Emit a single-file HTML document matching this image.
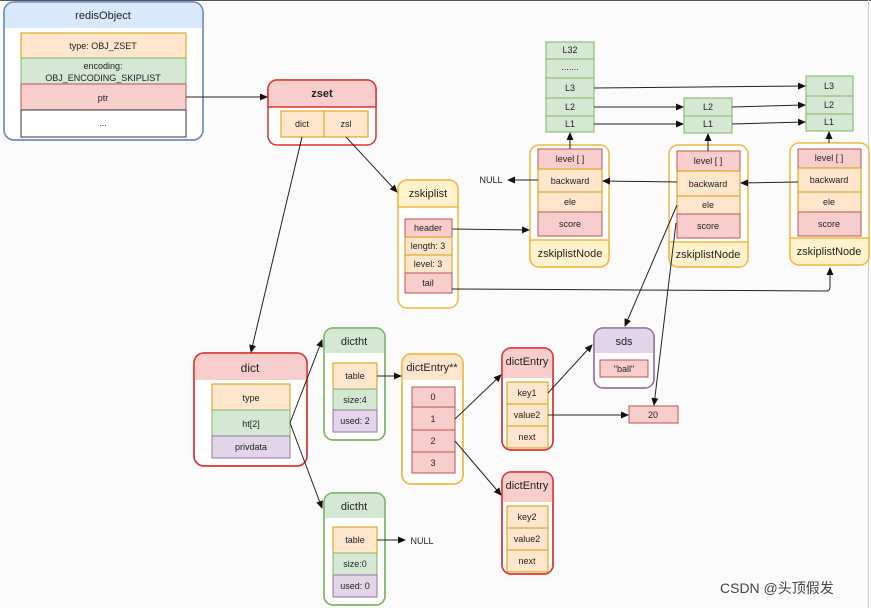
<!DOCTYPE html>
<html><head><meta charset="utf-8"><style>
html,body{margin:0;padding:0;background:#fbfbfb;}
svg{display:block;font-family:"Liberation Sans","Noto Sans CJK SC",sans-serif;}
text{text-anchor:middle;dominant-baseline:central;fill:#222;}
.s{font-size:9px}.t{font-size:12px}
</style></head><body>
<svg width="871" height="608" viewBox="0 0 871 608" xmlns="http://www.w3.org/2000/svg">
<defs><marker id="a" markerWidth="8" markerHeight="8" refX="7" refY="4" orient="auto" markerUnits="userSpaceOnUse"><path d="M0,0.5 L8,4 L0,7.5 z" fill="#111"/></marker></defs>
<rect x="0" y="0" width="871" height="608" fill="#fbfbfb"/>
<line x1="0" y1="0.5" x2="871" y2="0.5" stroke="#555"/>
<line x1="868.5" y1="0" x2="868.5" y2="608" stroke="#ccc"/>

<!-- redisObject -->
<rect x="4" y="2" width="199" height="138" rx="10" fill="#fff" stroke="#6c8ebf" stroke-width="1.5"/>
<path d="M4,28 V12 a10,10 0 0 1 10,-10 H193 a10,10 0 0 1 10,10 V28 z" fill="#dae8fc"/>
<rect x="4" y="2" width="199" height="138" rx="10" fill="none" stroke="#6c8ebf" stroke-width="1.5"/>
<text x="103" y="16" class="t" style="font-size:11px">redisObject</text>
<rect x="21" y="33" width="165" height="25" fill="#ffe6cc" stroke="#d79b00"/>
<text x="103" y="46" class="s">type: OBJ_ZSET</text>
<rect x="21" y="58" width="165" height="26" fill="#d5e8d4" stroke="#82b366"/>
<text x="103" y="66" class="s">encoding:</text><text x="103" y="78" class="s">OBJ_ENCODING_SKIPLIST</text>
<rect x="21" y="84" width="165" height="26" fill="#f8cecc" stroke="#b85450"/>
<text x="103" y="98" class="s">ptr</text>
<rect x="21" y="110" width="165" height="27" fill="#fff" stroke="#333"/>
<text x="103" y="123" class="s">...</text>

<!-- zset -->
<rect x="268" y="80" width="108" height="65" rx="9" fill="#fff" stroke="#d33" stroke-width="1.5"/>
<path d="M268,107 V89 a9,9 0 0 1 9,-9 H367 a9,9 0 0 1 9,9 V107 z" fill="#f8cecc" stroke="#d33" stroke-width="1.5"/>
<text x="322" y="94" class="t" style="font-weight:bold;font-size:11px">zset</text>
<rect x="281" y="111" width="43" height="26" fill="#ffe6cc" stroke="#d79b00"/>
<rect x="324" y="111" width="44" height="26" fill="#ffe6cc" stroke="#d79b00"/>
<text x="302" y="124" class="s">dict</text><text x="346" y="124" class="s">zsl</text>

<!-- zskiplist -->
<rect x="398" y="180" width="60" height="128" rx="9" fill="#fff" stroke="#f0b840" stroke-width="1.5"/>
<path d="M398,207 V189 a9,9 0 0 1 9,-9 H449 a9,9 0 0 1 9,9 V207 z" fill="#fff2cc" stroke="#f0b840" stroke-width="1.5"/>
<text x="428" y="194" class="t" style="font-size:11px">zskiplist</text>
<rect x="405" y="219" width="47" height="18" fill="#f8cecc" stroke="#b85450"/><text x="428" y="228" class="s">header</text>
<rect x="405" y="237" width="47" height="18" fill="#ffe6cc" stroke="#d79b00"/><text x="428" y="246" class="s">length:  3</text>
<rect x="405" y="255" width="47" height="18" fill="#ffe6cc" stroke="#d79b00"/><text x="428" y="264" class="s">level:  3</text>
<rect x="405" y="273" width="47" height="20" fill="#f8cecc" stroke="#b85450"/><text x="428" y="283" class="s">tail</text>

<!-- level stacks -->
<g fill="#d5e8d4" stroke="#82b366">
<rect x="546" y="42" width="48" height="17"/><rect x="546" y="59" width="48" height="19"/><rect x="546" y="78" width="48" height="20"/><rect x="546" y="98" width="48" height="18"/><rect x="546" y="116" width="48" height="16"/>
<rect x="684" y="98" width="48" height="18"/><rect x="684" y="116" width="48" height="17"/>
<rect x="806" y="76" width="47" height="20"/><rect x="806" y="96" width="47" height="18"/><rect x="806" y="114" width="47" height="17"/>
</g>
<text x="570" y="50" class="s">L32</text><text x="570" y="67" class="s">.......</text><text x="570" y="88" class="s">L3</text><text x="570" y="107" class="s">L2</text><text x="570" y="124" class="s">L1</text>
<text x="708" y="107" class="s">L2</text><text x="708" y="124" class="s">L1</text>
<text x="829" y="86" class="s">L3</text><text x="829" y="105" class="s">L2</text><text x="829" y="122" class="s">L1</text>

<!-- nodes -->
<g>
<rect x="530" y="145" width="79" height="122" rx="9" fill="#fff" stroke="#f0b840" stroke-width="1.5"/>
<path d="M530,240 H609 V258 a9,9 0 0 1 -9,9 H539 a9,9 0 0 1 -9,-9 z" fill="#fff2cc" stroke="#f0b840" stroke-width="1.5"/>
<rect x="538" y="149" width="64" height="20" fill="#f8cecc" stroke="#b85450"/><text x="570" y="159" class="s">level [ ]</text>
<rect x="538" y="169" width="64" height="23" fill="#ffe6cc" stroke="#d79b00"/><text x="570" y="181" class="s">backward</text>
<rect x="538" y="192" width="64" height="20" fill="#ffe6cc" stroke="#d79b00"/><text x="570" y="202" class="s">ele</text>
<rect x="538" y="212" width="64" height="24" fill="#f8cecc" stroke="#b85450"/><text x="570" y="224" class="s">score</text>
<text x="570" y="254" class="t" style="font-size:11px">zskiplistNode</text>
</g>
<g>
<rect x="669" y="145" width="79" height="122" rx="9" fill="#fff" stroke="#f0b840" stroke-width="1.5"/>
<path d="M669,242 H748 V258 a9,9 0 0 1 -9,9 H678 a9,9 0 0 1 -9,-9 z" fill="#fff2cc" stroke="#f0b840" stroke-width="1.5"/>
<rect x="677" y="151" width="63" height="20" fill="#f8cecc" stroke="#b85450"/><text x="708" y="161" class="s">level [ ]</text>
<rect x="677" y="171" width="63" height="25" fill="#ffe6cc" stroke="#d79b00"/><text x="708" y="184" class="s">backward</text>
<rect x="677" y="196" width="63" height="18" fill="#ffe6cc" stroke="#d79b00"/><text x="708" y="205" class="s">ele</text>
<rect x="677" y="214" width="63" height="24" fill="#f8cecc" stroke="#b85450"/><text x="708" y="226" class="s">score</text>
<text x="708" y="255" class="t" style="font-size:11px">zskiplistNode</text>
</g>
<g>
<rect x="790" y="143" width="79" height="122" rx="9" fill="#fff" stroke="#f0b840" stroke-width="1.5"/>
<path d="M790,238 H869 V256 a9,9 0 0 1 -9,9 H799 a9,9 0 0 1 -9,-9 z" fill="#fff2cc" stroke="#f0b840" stroke-width="1.5"/>
<rect x="798" y="149" width="63" height="19" fill="#f8cecc" stroke="#b85450"/><text x="829" y="158" class="s">level [ ]</text>
<rect x="798" y="168" width="63" height="24" fill="#ffe6cc" stroke="#d79b00"/><text x="829" y="180" class="s">backward</text>
<rect x="798" y="192" width="63" height="20" fill="#ffe6cc" stroke="#d79b00"/><text x="829" y="202" class="s">ele</text>
<rect x="798" y="212" width="63" height="24" fill="#f8cecc" stroke="#b85450"/><text x="829" y="224" class="s">score</text>
<text x="829" y="252" class="t" style="font-size:11px">zskiplistNode</text>
</g>
<text x="491" y="180" class="s">NULL</text>

<!-- dict -->
<rect x="194" y="353" width="113" height="113" rx="10" fill="#fff" stroke="#d33" stroke-width="1.5"/>
<path d="M194,380 V363 a10,10 0 0 1 10,-10 H297 a10,10 0 0 1 10,10 V380 z" fill="#f8cecc"/>
<rect x="194" y="353" width="113" height="113" rx="10" fill="none" stroke="#d33" stroke-width="1.5"/>
<text x="250" y="368" class="t">dict</text>
<rect x="212" y="384" width="78" height="26" fill="#ffe6cc" stroke="#d79b00"/><text x="251" y="398" class="s">type</text>
<rect x="212" y="410" width="78" height="26" fill="#d5e8d4" stroke="#82b366"/><text x="251" y="424" class="s">ht[2]</text>
<rect x="212" y="436" width="78" height="22" fill="#e1d5e7" stroke="#9673a6"/><text x="251" y="447" class="s">privdata</text>

<!-- dictht1 -->
<rect x="324" y="328" width="61" height="112" rx="9" fill="#fff" stroke="#82b366" stroke-width="1.5"/>
<path d="M324,353 V337 a9,9 0 0 1 9,-9 H376 a9,9 0 0 1 9,9 V353 z" fill="#d5e8d4"/>
<rect x="324" y="328" width="61" height="112" rx="9" fill="none" stroke="#82b366" stroke-width="1.5"/>
<text x="354" y="342" class="t" style="font-size:11px">dictht</text>
<rect x="333" y="363" width="44" height="26" fill="#ffe6cc" stroke="#d79b00"/><text x="355" y="376" class="s">table</text>
<rect x="333" y="389" width="44" height="21" fill="#d5e8d4" stroke="#82b366"/><text x="355" y="400" class="s">size:4</text>
<rect x="333" y="410" width="44" height="22" fill="#e1d5e7" stroke="#9673a6"/><text x="355" y="421" class="s">used: 2</text>

<!-- dictht2 -->
<rect x="324" y="493" width="61" height="112" rx="9" fill="#fff" stroke="#82b366" stroke-width="1.5"/>
<path d="M324,518 V502 a9,9 0 0 1 9,-9 H376 a9,9 0 0 1 9,9 V518 z" fill="#d5e8d4"/>
<rect x="324" y="493" width="61" height="112" rx="9" fill="none" stroke="#82b366" stroke-width="1.5"/>
<text x="354" y="507" class="t" style="font-size:11px">dictht</text>
<rect x="333" y="527" width="44" height="26" fill="#ffe6cc" stroke="#d79b00"/><text x="355" y="540" class="s">table</text>
<rect x="333" y="553" width="44" height="22" fill="#d5e8d4" stroke="#82b366"/><text x="355" y="564" class="s">size:0</text>
<rect x="333" y="575" width="44" height="22" fill="#e1d5e7" stroke="#9673a6"/><text x="355" y="586" class="s">used: 0</text>
<text x="422" y="541" class="s">NULL</text>

<!-- dictEntry** -->
<rect x="402" y="354" width="61" height="130" rx="9" fill="#fff" stroke="#f0b840" stroke-width="1.5"/>
<path d="M402,380 V363 a9,9 0 0 1 9,-9 H454 a9,9 0 0 1 9,9 V380 z" fill="#ffe6cc"/>
<rect x="402" y="354" width="61" height="130" rx="9" fill="none" stroke="#f0b840" stroke-width="1.5"/>
<text x="432" y="368" class="t" style="font-size:11px">dictEntry**</text>
<g fill="#f8cecc" stroke="#b85450">
<rect x="412" y="387" width="43" height="20"/><rect x="412" y="407" width="43" height="23"/><rect x="412" y="430" width="43" height="22"/><rect x="412" y="452" width="43" height="21"/></g>
<text x="433" y="397" class="s">0</text><text x="433" y="419" class="s">1</text><text x="433" y="441" class="s">2</text><text x="433" y="463" class="s">3</text>

<!-- dictEntry1 -->
<rect x="502" y="348" width="51" height="102" rx="9" fill="#fff" stroke="#d33" stroke-width="1.5"/>
<path d="M502,378 V357 a9,9 0 0 1 9,-9 H544 a9,9 0 0 1 9,9 V378 z" fill="#f8cecc"/>
<rect x="502" y="348" width="51" height="102" rx="9" fill="none" stroke="#d33" stroke-width="1.5"/>
<text x="527" y="362" class="t" style="font-size:11px">dictEntry</text>
<g fill="#ffe6cc" stroke="#d79b00"><rect x="507" y="382" width="41" height="22"/><rect x="507" y="404" width="41" height="22"/><rect x="507" y="426" width="41" height="22"/></g>
<text x="527" y="393" class="s">key1</text><text x="527" y="415" class="s">value2</text><text x="527" y="437" class="s">next</text>

<!-- dictEntry2 -->
<rect x="502" y="472" width="51" height="102" rx="9" fill="#fff" stroke="#d33" stroke-width="1.5"/>
<path d="M502,502 V481 a9,9 0 0 1 9,-9 H544 a9,9 0 0 1 9,9 V502 z" fill="#f8cecc"/>
<rect x="502" y="472" width="51" height="102" rx="9" fill="none" stroke="#d33" stroke-width="1.5"/>
<text x="527" y="486" class="t" style="font-size:11px">dictEntry</text>
<g fill="#ffe6cc" stroke="#d79b00"><rect x="507" y="506" width="41" height="22"/><rect x="507" y="528" width="41" height="22"/><rect x="507" y="550" width="41" height="22"/></g>
<text x="527" y="517" class="s">key2</text><text x="527" y="539" class="s">value2</text><text x="527" y="561" class="s">next</text>

<!-- sds -->
<rect x="594" y="328" width="60" height="60" rx="9" fill="#fff" stroke="#9673a6" stroke-width="1.5"/>
<path d="M594,353 V337 a9,9 0 0 1 9,-9 H645 a9,9 0 0 1 9,9 V353 z" fill="#e1d5e7"/>
<rect x="594" y="328" width="60" height="60" rx="9" fill="none" stroke="#9673a6" stroke-width="1.5"/>
<text x="624" y="342" class="t" style="font-size:11px">sds</text>
<rect x="600" y="360" width="48" height="17" fill="#f8cecc" stroke="#b85450"/><text x="624" y="369" class="s">"ball"</text>
<rect x="629" y="406" width="49" height="17" fill="#f8cecc" stroke="#b85450"/><text x="653" y="415" class="s">20</text>

<!-- connectors -->
<g stroke="#222" stroke-width="1" fill="none" marker-end="url(#a)">
<line x1="186" y1="97" x2="267" y2="97"/>
<line x1="346" y1="137" x2="397" y2="192"/>
<line x1="302" y1="137" x2="251" y2="352"/>
<line x1="452" y1="229" x2="529" y2="230"/>
<path d="M452,289 L826,291 Q830,291 830,287 L830,268"/>
<line x1="538" y1="180" x2="508" y2="180"/>
<line x1="677" y1="182" x2="603" y2="181"/>
<line x1="798" y1="182" x2="741" y2="183"/>
<line x1="570" y1="149" x2="570" y2="133"/>
<line x1="708" y1="151" x2="708" y2="134"/>
<line x1="829" y1="143" x2="829" y2="132"/>
<line x1="594" y1="88" x2="805" y2="86"/>
<line x1="594" y1="107" x2="683" y2="107"/>
<line x1="594" y1="124" x2="683" y2="124"/>
<line x1="732" y1="107" x2="805" y2="105"/>
<line x1="732" y1="124" x2="805" y2="122"/>
<line x1="677" y1="205" x2="625" y2="326"/>
<line x1="676" y1="223" x2="654" y2="405"/>
<path d="M290,423 L322,340"/>
<path d="M290,423 L322,508"/>
<line x1="377" y1="376" x2="401" y2="376"/>
<line x1="377" y1="540" x2="405" y2="540"/>
<line x1="455" y1="419" x2="501" y2="375"/>
<line x1="455" y1="441" x2="501" y2="495"/>
<line x1="548" y1="393" x2="592" y2="345"/>
<line x1="548" y1="415" x2="628" y2="415"/>
</g>

<text x="720" y="588" style="font-size:14px;text-anchor:start;fill:#444">CSDN @头顶假发</text>
</svg>
</body></html>
